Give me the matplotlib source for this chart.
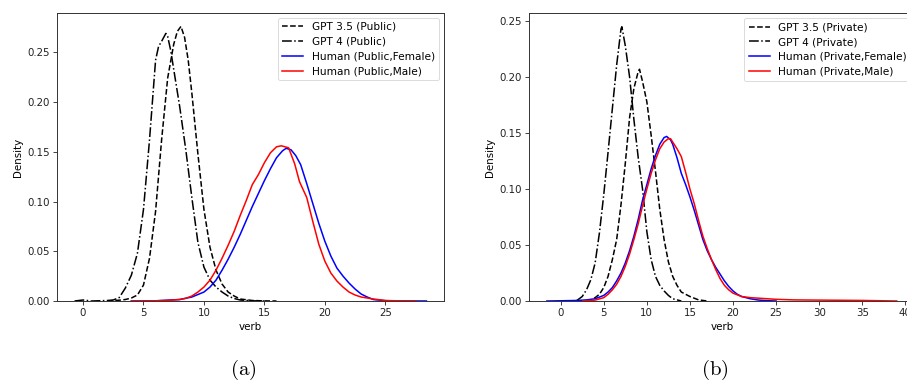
import matplotlib
matplotlib.use("Agg")
import matplotlib.pyplot as plt

# ---------------- Panel (a): Public ----------------
gpt35_pub_x = [2, 3, 3.5, 4, 4.5, 5, 5.5, 6, 6.5, 7, 7.5, 7.8, 8.1, 8.4, 8.7, 9, 9.5, 10,
               10.5, 11, 11.5, 12, 12.5, 13, 14, 15, 16]
gpt35_pub_y = [0.0, 0.0008, 0.0015, 0.003, 0.006, 0.016, 0.043, 0.09, 0.162, 0.224,
               0.258, 0.271, 0.276, 0.265, 0.242, 0.209, 0.148, 0.092, 0.054, 0.031, 0.017,
               0.009, 0.005, 0.002, 0.0005, 0.0001, 0.0]

gpt4_pub_x = [-0.7, 0, 0.7, 2, 2.5, 3, 3.5, 4, 4.5, 5, 5.5, 6, 6.25, 6.5, 6.85, 7,
              7.25, 7.5, 8, 8.5, 9, 9.5, 10, 10.5, 11, 11.5, 12, 12.5, 13, 14, 15]
gpt4_pub_y = [0.0, 0.001, 0.0, 0.0005, 0.001, 0.0035, 0.013, 0.026, 0.048, 0.092,
              0.162, 0.242, 0.256, 0.261, 0.269, 0.266, 0.252, 0.233, 0.195, 0.152,
              0.104, 0.059, 0.034, 0.021, 0.014, 0.009, 0.005, 0.0025, 0.001, 0.0002, 0.0]

hum_pub_f_x = [4, 6, 8, 9, 10, 10.5, 11, 11.5, 12, 12.5, 13, 13.5, 14, 14.5, 15, 15.5,
               16, 16.5, 16.8, 17.2, 17.6, 18, 18.5, 19, 19.5, 20, 20.5, 21, 21.5, 22, 22.5,
               23, 23.5, 24, 25, 26, 28.4]
hum_pub_f_y = [0.0, 0.0002, 0.0015, 0.004, 0.009, 0.014, 0.021, 0.031, 0.042, 0.054,
               0.067, 0.081, 0.095, 0.108, 0.121, 0.133, 0.144, 0.151, 0.1535, 0.152,
               0.146, 0.137, 0.118, 0.098, 0.078, 0.060, 0.045, 0.033, 0.025, 0.018, 0.012,
               0.007, 0.004, 0.0015, 0.0003, 0.0001, 0.0]

hum_pub_m_x = [4, 6, 7, 8, 8.5, 9, 9.5, 10, 10.5, 11, 11.5, 12, 12.5, 13, 13.5, 14,
               14.5, 15, 15.5, 16, 16.4, 17, 17.5, 17.9, 18.5, 19, 19.5, 20, 20.5, 21,
               21.5, 22, 22.5, 23, 24, 25, 26, 27.5]
hum_pub_m_y = [0.0, 0.0002, 0.0006, 0.0015, 0.0027, 0.005, 0.009, 0.014, 0.021, 0.031,
               0.043, 0.056, 0.070, 0.086, 0.101, 0.117, 0.127, 0.139, 0.149, 0.155,
               0.156, 0.154, 0.138, 0.120, 0.104, 0.080, 0.057, 0.040, 0.028, 0.020,
               0.014, 0.009, 0.006, 0.004, 0.002, 0.0005, 0.0002, 0.0]

# ---------------- Panel (b): Private ----------------
gpt35_priv_x = [3, 3.5, 4, 4.5, 5, 5.5, 6, 6.5, 7, 7.5, 8, 8.5, 9, 9.15, 9.5, 10,
                10.5, 11, 11.5, 12, 12.5, 13, 13.5, 14, 15, 16, 17]
gpt35_priv_y = [0.0, 0.001, 0.003, 0.006, 0.012, 0.022, 0.037, 0.055, 0.086, 0.123,
                0.164, 0.19, 0.205, 0.207, 0.196, 0.178, 0.148, 0.116, 0.082, 0.055,
                0.035, 0.022, 0.014, 0.008, 0.004, 0.001, 0.0]

gpt4_priv_x = [1.8, 2.5, 3, 3.5, 4, 4.5, 5, 5.5, 6, 6.5, 7, 7.1, 7.5, 8, 8.5, 9, 9.5,
               10, 10.5, 11, 11.5, 12, 12.5, 13, 14]
gpt4_priv_y = [0.0, 0.004, 0.01, 0.019, 0.034, 0.061, 0.095, 0.133, 0.172, 0.211,
               0.243, 0.245, 0.228, 0.2, 0.162, 0.128, 0.1, 0.062, 0.037, 0.022,
               0.014, 0.009, 0.005, 0.002, 0.0]

hum_priv_f_x = [-1.6, 0, 2, 3, 4, 5, 5.5, 6, 6.5, 7, 7.5, 8, 8.5, 9, 9.5, 10, 10.5,
                11, 11.5, 12, 12.3, 12.75, 13, 13.5, 14, 14.5, 15, 15.5, 16, 16.5, 17,
                17.5, 18, 18.5, 19, 19.5, 20, 20.5, 21, 22, 23, 24, 25]
hum_priv_f_y = [0.0, 0.0002, 0.0005, 0.001, 0.002, 0.005, 0.008, 0.012, 0.018, 0.025,
                0.034, 0.045, 0.058, 0.073, 0.09, 0.104, 0.118, 0.13, 0.14, 0.146,
                0.147, 0.144, 0.140, 0.128, 0.114, 0.104, 0.093, 0.081, 0.068, 0.055,
                0.045, 0.037, 0.030, 0.024, 0.018, 0.013, 0.009, 0.006, 0.004, 0.002,
                0.0008, 0.0003, 0.0]

hum_priv_m_x = [2.6, 4, 5, 5.5, 6, 6.5, 7, 7.5, 8, 8.5, 9, 9.5, 10, 10.5, 11, 11.5,
                12, 12.5, 12.75, 13, 13.5, 14, 14.5, 15, 15.5, 16, 16.5, 17, 17.5, 18,
                18.5, 19, 19.5, 20, 21, 22, 23, 24, 25, 27, 30, 35, 39]
hum_priv_m_y = [0.0, 0.0008, 0.003, 0.006, 0.01, 0.015, 0.022, 0.031, 0.042, 0.055,
                0.069, 0.085, 0.1, 0.114, 0.126, 0.136, 0.142, 0.145, 0.145, 0.142,
                0.136, 0.129, 0.115, 0.1, 0.087, 0.072, 0.058, 0.047, 0.037, 0.028,
                0.020, 0.014, 0.010, 0.007, 0.004, 0.003, 0.0025, 0.002, 0.0015,
                0.001, 0.0008, 0.0005, 0.0]

labels_a = ["GPT 3.5 (Public)", "GPT 4 (Public)", "Human (Public,Female)", "Human (Public,Male)"]
labels_b = ["GPT 3.5 (Private)", "GPT 4 (Private)", "Human (Private,Female)", "Human (Private,Male)"]
xticks_a = [0, 5, 10, 15, 20, 25]
xticks_b = [0, 5, 10, 15, 20, 25, 30, 35, 40]
yticks_a = [0.00, 0.05, 0.10, 0.15, 0.20, 0.25]
yticks_b = [0.00, 0.05, 0.10, 0.15, 0.20, 0.25]

plt.rcParams['font.family'] = ['DejaVu Sans']
plt.rcParams['mathtext.fontset'] = 'cm'

W, H = 907, 383
fig = plt.figure(figsize=(W / 100, H / 100), dpi=100)

LW = 1.1
TICK_FS = 7.4
LEG_FS = 7.6


def panel(rect, series, labels, xticks, yticks, xlim, ylim, tag, tag_x):
    ax = fig.add_axes(rect)
    styles = [('black', '--'), ('black', '-.'), ('blue', '-'), ('red', '-')]
    for (xs, ys), (c, ls), lab in zip(series, styles, labels):
        ax.plot(xs, ys, color=c, linestyle=ls, linewidth=LW, label=lab)
    ax.set_xlim(*xlim)
    ax.set_ylim(*ylim)
    ax.set_xticks(xticks)
    ax.set_yticks(yticks)
    ax.set_yticklabels([f"{v:.2f}" for v in yticks])
    ax.tick_params(labelsize=TICK_FS, length=2.6, width=0.6, pad=2.5, colors='#222222')
    for s in ax.spines.values():
        s.set_linewidth(0.7)
        s.set_color('#333333')
    ax.set_xlabel("verb", fontsize=TICK_FS, labelpad=3)
    ax.set_ylabel("Density", fontsize=TICK_FS, labelpad=3)
    leg = ax.legend(loc='upper right', fontsize=LEG_FS, handlelength=2.0,
                    borderaxespad=0.45, labelspacing=0.45, framealpha=0.8)
    leg.get_frame().set_linewidth(0.6)
    fig.text(tag_x / W, 1 - 370 / H, tag, fontsize=15, ha='center', va='center')
    return ax


ax_a = panel([57 / W, 82 / H, 387 / W, 288 / H],
             [(gpt35_pub_x, gpt35_pub_y), (gpt4_pub_x, gpt4_pub_y),
              (hum_pub_f_x, hum_pub_f_y), (hum_pub_m_x, hum_pub_m_y)],
             labels_a, xticks_a, yticks_a, (-2.15, 29.85), (0, 0.2895),
             r'$\mathrm{(a)}$', 243)

ax_b = panel([528.7 / W, 82 / H, 387 / W, 287.7 / H],
             [(gpt35_priv_x, gpt35_priv_y), (gpt4_priv_x, gpt4_priv_y),
              (hum_priv_f_x, hum_priv_f_y), (hum_priv_m_x, hum_priv_m_y)],
             labels_b, xticks_b, yticks_b, (-3.71, 41.2), (0, 0.257),
             r'$\mathrm{(b)}$', 715)

fig.savefig("out.png", dpi=100)
